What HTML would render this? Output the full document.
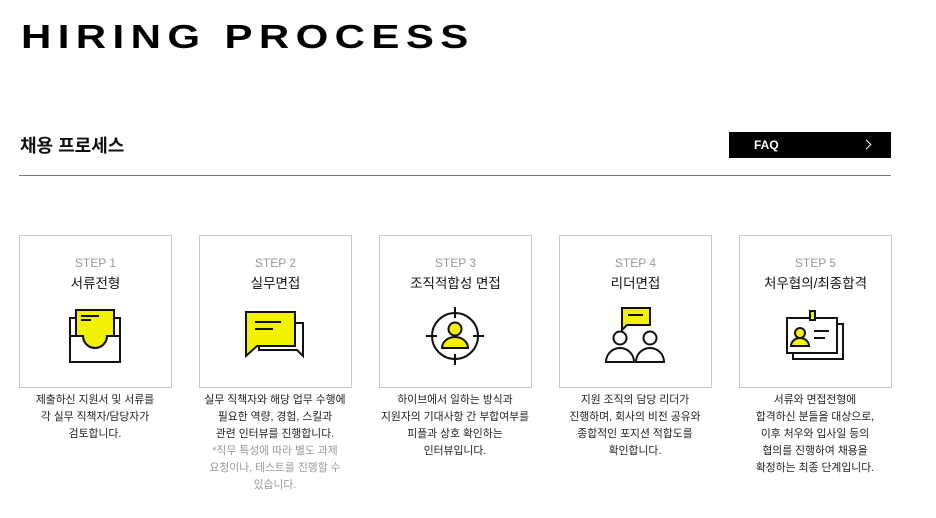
<!DOCTYPE html>
<html><head><meta charset="utf-8"><style>
body{margin:0;width:936px;height:518px;background:#fff;font-family:"Liberation Sans","Noto Sans CJK KR",sans-serif;position:relative;overflow:hidden}
.t{position:absolute;left:21px;top:19px;font-size:42px;font-weight:bold;letter-spacing:6.4px;color:#000;line-height:44px;transform:scaleY(0.8);transform-origin:left top}
.sub{position:absolute;left:20px;top:132px;font-size:18px;font-weight:bold;color:#111}
.hr{position:absolute;left:19px;top:175px;width:872px;height:1px;background:#777}
.faq{position:absolute;left:729px;top:132px;width:162px;height:26px;background:#000;color:#fff}
.faq span{position:absolute;left:25px;top:6px;font-size:12px;font-weight:bold}
.faq i{position:absolute;left:134px;top:9px;width:6px;height:6px;border-top:1.5px solid #fff;border-right:1.5px solid #fff;transform:rotate(45deg)}
.box{position:absolute;top:235px;width:151px;height:151px;border:1px solid #c8c8c8;text-align:center}
.st{position:absolute;top:20px;width:100%;font-size:12px;color:#999}
.ti{position:absolute;top:36px;width:100%;font-size:13.5px;color:#111}
.box svg{position:absolute;left:45px;top:70px}
.d{position:absolute;top:392px;width:160px;text-align:center;font-size:10.8px;line-height:17px;color:#222}
.g{color:#999}
</style></head><body>
<div class="t">HIRING PROCESS</div>
<div class="sub">채용 프로세스</div>
<div class="faq"><span>FAQ</span><i></i></div>
<div class="hr"></div>

<div class="box" style="left:19px"><div class="st">STEP 1</div><div class="ti">서류전형</div>
<svg width="60" height="60" viewBox="0 0 60 60" fill="none" stroke="#111" stroke-width="2">
<path d="M5 12 H55 V56 H5 Z" fill="#fff"/>
<path d="M11 4 H49 V30 H42 A12 12 0 0 1 18 30 H11 Z" fill="#f2f200"/>
<path d="M5 30 H18 A12 12 0 0 0 42 30 H55 V56 H5 Z" fill="#fff"/>
<path d="M16 10 H34 M16 14 H26"/></svg></div>
<div class="d" style="left:15px">제출하신 지원서 및 서류를<br>각 실무 직책자/담당자가<br>검토합니다.</div>

<div class="box" style="left:199px"><div class="st">STEP 2</div><div class="ti">실무면접</div>
<svg width="60" height="60" viewBox="0 0 60 60" fill="none" stroke="#111" stroke-width="2">
<path d="M14 17 H58 V50 L52 44 H14 Z" fill="#fff"/>
<path d="M1 6 H50 V40 H12 L1 50 Z" fill="#f2f200"/>
<path d="M10 16 H36 M10 23 H28"/></svg></div>
<div class="d" style="left:195px">실무 직책자와 해당 업무 수행에<br>필요한 역량, 경험, 스킬과<br>관련 인터뷰를 진행합니다.<br><span class="g">*직무 특성에 따라 별도 과제<br>요청이나, 테스트를 진행할 수<br>있습니다.</span></div>

<div class="box" style="left:379px"><div class="st">STEP 3</div><div class="ti">조직적합성 면접</div>
<svg width="60" height="60" viewBox="0 0 60 60" fill="none" stroke="#111" stroke-width="2">
<circle cx="30" cy="30" r="23"/>
<path d="M30 1 V12 M30 48 V59 M1 30 H12 M48 30 H59"/>
<circle cx="30" cy="23" r="6.5" fill="#f2f200"/>
<path d="M17 42 A13 11 0 0 1 43 42 Z" fill="#f2f200"/></svg></div>
<div class="d" style="left:375px">하이브에서 일하는 방식과<br>지원자의 기대사항 간 부합여부를<br>피플과 상호 확인하는<br>인터뷰입니다.</div>

<div class="box" style="left:559px"><div class="st">STEP 4</div><div class="ti">리더면접</div>
<svg width="60" height="60" viewBox="0 0 60 60" fill="none" stroke="#111" stroke-width="2">
<path d="M17 2 H45 V19 H22 L17 24 Z" fill="#f2f200"/>
<path d="M23 9 H38"/>
<circle cx="15" cy="32" r="6.5" fill="#fff"/><circle cx="45" cy="32" r="6.5" fill="#fff"/>
<path d="M1 56 A14 14 0 0 1 29 56 Z M31 56 A14 14 0 0 1 59 56 Z" fill="#fff"/></svg></div>
<div class="d" style="left:555px">지원 조직의 담당 리더가<br>진행하며, 회사의 비전 공유와<br>종합적인 포지션 적합도를<br>확인합니다.</div>

<div class="box" style="left:739px"><div class="st">STEP 5</div><div class="ti">처우협의/최종합격</div>
<svg width="60" height="60" viewBox="0 0 60 60" fill="none" stroke="#111" stroke-width="2">
<path d="M8 18 H58 V53 H8 Z" fill="#fff"/>
<path d="M2 12 H52 V47 H2 Z" fill="#fff"/>
<path d="M25 5 H30 V14 H25 Z" fill="#f2f200"/>
<circle cx="15" cy="27" r="5" fill="#f2f200"/>
<path d="M6 40 A9 8 0 0 1 24 40 Z" fill="#f2f200"/>
<path d="M29 25 H44 M29 32 H40"/></svg></div>
<div class="d" style="left:735px">서류와 면접전형에<br>합격하신 분들을 대상으로,<br>이후 처우와 입사일 등의<br>협의를 진행하여 채용을<br>확정하는 최종 단계입니다.</div>
</body></html>
